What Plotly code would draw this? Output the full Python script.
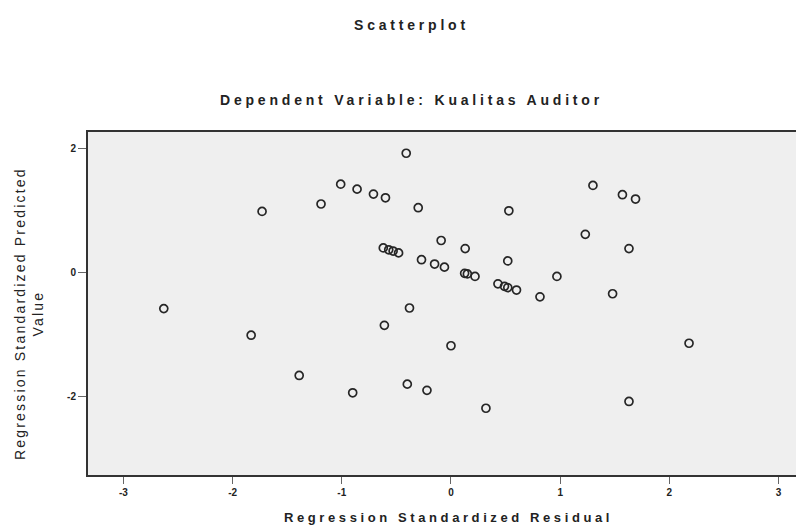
import plotly.graph_objects as go

# Regression Standardized Residual (x) and Regression Standardized Predicted Value (y)
residual = [-2.63, -1.83, -1.73, -1.39, -1.19, -1.01, -0.90, -0.86, -0.71, -0.61,
            -0.60, -0.62, -0.57, -0.53, -0.48, -0.41, -0.40, -0.38, -0.30, -0.27,
            -0.22, -0.15, -0.09, -0.06, 0.00, 0.13, 0.125, 0.15, 0.22, 0.32,
            0.43, 0.49, 0.52, 0.52, 0.53, 0.60, 0.815, 0.97, 1.23, 1.30,
            1.48, 1.57, 1.63, 1.63, 1.69, 2.18]
predicted = [-0.58, -1.01, 0.99, -1.66, 1.11, 1.43, -1.94, 1.35, 1.27, -0.85,
             1.21, 0.40, 0.37, 0.35, 0.32, 1.93, -1.80, -0.57, 1.05, 0.21,
             -1.90, 0.14, 0.52, 0.09, -1.18, 0.39, -0.01, -0.02, -0.06, -2.19,
             -0.18, -0.22, -0.24, 0.19, 1.00, -0.28, -0.39, -0.06, 0.62, 1.41,
             -0.34, 1.26, 0.39, -2.08, 1.19, -1.14]

x_ticks = [-3, -2, -1, 0, 1, 2, 3]
y_ticks = [-2, 0, 2]

title_text = "Scatterplot"
subtitle_text = "Dependent Variable: Kualitas Auditor"
x_title = "Regression Standardized Residual"
y_title = "Regression Standardized Predicted<br>Value"

FONT = "Liberation Sans, Arial, sans-serif"

def spaced(t, sp):
    return f"<span style='letter-spacing:{sp}px'>{t}</span>"

fig = go.Figure()
fig.add_trace(go.Scatter(
    x=residual, y=predicted, mode="markers",
    marker=dict(symbol="circle-open", size=8, color="#262626",
                line=dict(width=1.7, color="#262626")),
    showlegend=False, hoverinfo="x+y",
))

fig.update_layout(
    width=804, height=531,
    margin=dict(l=80, r=0, t=124, b=64),
    paper_bgcolor="white",
    plot_bgcolor="#efefef",
    font=dict(family=FONT, color="#222"),
    xaxis=dict(
        range=[-3.324, 3.306], tickvals=x_ticks, ticktext=[str(v) for v in x_ticks],
        showgrid=False, zeroline=False, showline=True, mirror=True,
        linecolor="#333", linewidth=2,
        ticks="outside", ticklen=7, tickcolor="#666", tickwidth=1,
        tickfont=dict(size=10, family=FONT, color="#222", weight="bold"),
    ),
    yaxis=dict(
        range=[-3.268, 2.273], tickvals=y_ticks, ticktext=[str(v) for v in y_ticks],
        showgrid=False, zeroline=False, showline=True, mirror=False,
        linecolor="#333", linewidth=2,
        ticks="outside", ticklen=8, tickcolor="#666", tickwidth=1,
        tickfont=dict(size=10, family=FONT, color="#222", weight="bold"),
    ),
    annotations=[
        dict(text=spaced(title_text, 3.8), xref="paper", yref="paper",
             x=0.447, y=1.312, xanchor="center", yanchor="middle", showarrow=False,
             font=dict(size=14, family=FONT, weight="bold", color="#222")),
        dict(text=spaced(subtitle_text, 3.8), xref="paper", yref="paper",
             x=0.447, y=1.093, xanchor="center", yanchor="middle", showarrow=False,
             font=dict(size=14, family=FONT, weight="bold", color="#222")),
        dict(text=spaced(x_title, 3.6), xref="paper", yref="paper",
             x=0.498, y=-0.125, xanchor="center", yanchor="middle", showarrow=False,
             font=dict(size=13, family=FONT, weight="bold", color="#222")),
        dict(text=spaced(y_title, 2.2), xref="paper", yref="paper",
             x=-0.0815, y=0.472, xanchor="center", yanchor="middle", showarrow=False,
             textangle=-90,
             font=dict(size=14, family=FONT, color="#222")),
    ],
)

fig.write_html("out.html")
